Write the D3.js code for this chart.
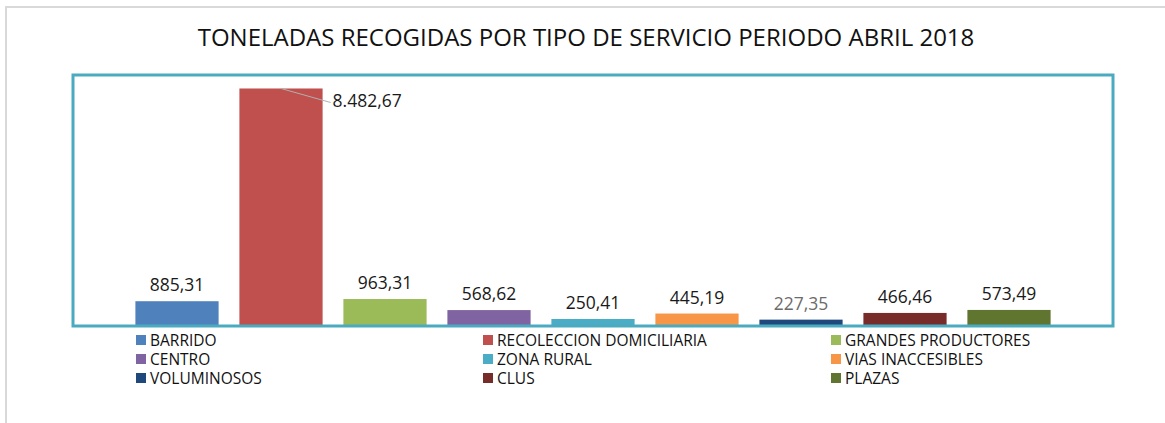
<!DOCTYPE html>
<html>
<head>
<meta charset="utf-8">
<script src="https://cdn.jsdelivr.net/npm/d3@7"></script>
<style>
  body { margin: 0; background: #fff; }
  svg { display: block; font-family: "Open Sans", sans-serif; }
</style>
</head>
<body>
<svg width="1165" height="423"></svg>
<script>
const categories = ["BARRIDO", "RECOLECCION DOMICILIARIA", "GRANDES PRODUCTORES",
    "CENTRO", "ZONA RURAL", "VIAS INACCESIBLES", "VOLUMINOSOS", "CLUS", "PLAZAS"];
const values = [885.31, 8482.67, 963.31, 568.62, 250.41, 445.19, 227.35, 466.46, 573.49];
const valueLabels = ["885,31", "8.482,67", "963,31", "568,62", "250,41", "445,19", "227,35", "466,46", "573,49"];
const colors = ["#4f81bd", "#c0504d", "#9bbb59", "#8064a2", "#4bacc6", "#f79646", "#1f497d", "#772c2a", "#5f7530"];

const svg = d3.select("svg");

// outer light frame
svg.append("path")
    .attr("d", "M6,423 V7 H1165")
    .attr("fill", "none")
    .attr("stroke", "#d9d9d9")
    .attr("stroke-width", 2);

svg.append("text")
    .attr("x", 586)
    .attr("y", 46)
    .attr("text-anchor", "middle")
    .attr("font-size", "24px")
    .attr("fill", "#111")
    .text("TONELADAS RECOGIDAS POR TIPO DE SERVICIO PERIODO ABRIL 2018");

const plot = { left: 73, right: 1113, top: 75, bottom: 326 };

let x = d3.scaleBand()
    .domain(categories)
    .range([plot.left, plot.right])
    .paddingInner(0.2)
    .paddingOuter(0.6);

let y = d3.scaleLinear()
    .domain([0, 9000])
    .range([plot.bottom, plot.top - 1]);

// bars
svg.selectAll(".bar")
    .data(categories)
    .enter().append("rect")
    .attr("class", "bar")
    .attr("x", d => x(d))
    .attr("width", x.bandwidth())
    .attr("y", (d, i) => y(values[i]))
    .attr("height", (d, i) => plot.bottom - y(values[i]))
    .attr("fill", (d, i) => colors[i]);

// plot frame (teal)
svg.append("rect")
    .attr("x", plot.left)
    .attr("y", plot.top)
    .attr("width", plot.right - plot.left)
    .attr("height", plot.bottom - plot.top)
    .attr("fill", "none")
    .attr("stroke", "#4aabc0")
    .attr("stroke-width", 3);

// value labels
const tallest = d3.maxIndex(values);
svg.selectAll(".val")
    .data(categories)
    .enter().append("text")
    .attr("class", "val")
    .attr("x", (d, i) => i === tallest ? x(d) + x.bandwidth() + 10 : x(d) + x.bandwidth() / 2)
    .attr("y", (d, i) => i === tallest ? y(values[i]) + 19 : y(values[i]) - 10)
    .attr("text-anchor", (d, i) => i === tallest ? "start" : "middle")
    .attr("font-size", "17.5px")
    .attr("fill", (d, i) => categories[i] === "VOLUMINOSOS" ? "#6b6b6b" : "#1a1a1a")
    .text((d, i) => valueLabels[i]);

// leader line for the tallest bar
svg.append("line")
    .attr("x1", x(categories[tallest]) + x.bandwidth() * 0.5)
    .attr("y1", y(values[tallest]))
    .attr("x2", x(categories[tallest]) + x.bandwidth() + 8)
    .attr("y2", y(values[tallest]) + 14)
    .attr("stroke", "#b0b0b0")
    .attr("stroke-width", 1);

// legend
const legendCols = [136, 483, 831];
const legendRows = [340, 359, 378];
let legend = svg.selectAll(".legend")
    .data(categories)
    .enter().append("g")
    .attr("class", "legend")
    .attr("transform", (d, i) => "translate(" + legendCols[i % 3] + "," + legendRows[Math.floor(i / 3)] + ")");

legend.append("rect")
    .attr("x", 0)
    .attr("y", -5)
    .attr("width", 10)
    .attr("height", 10)
    .attr("fill", (d, i) => colors[i]);

legend.append("text")
    .attr("x", 14)
    .attr("y", 5.5)
    .attr("font-size", "15.5px")
    .attr("fill", "#111")
    .text(d => d);
</script>
</body>
</html>
